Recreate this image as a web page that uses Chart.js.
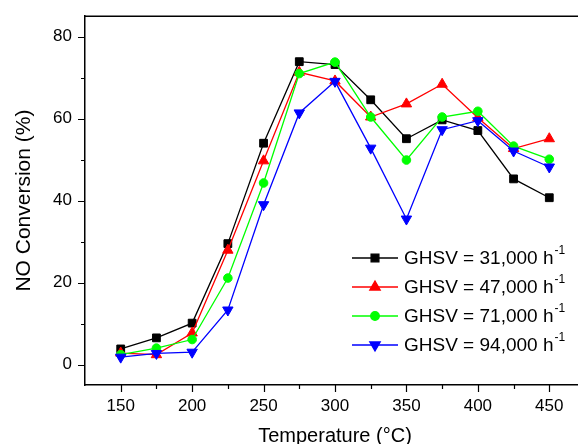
<!DOCTYPE html>
<html>
<head>
<meta charset="utf-8">
<script src="https://cdn.jsdelivr.net/npm/chart.js@4.4.0/dist/chart.umd.min.js"></script>
<style>
  html, body { margin: 0; padding: 0; background: #fff; }
  #wrap { width: 578px; height: 444px; overflow: hidden; }
  canvas { display: block; }
</style>
</head>
<body>
<div id="wrap"><canvas id="chart" width="592" height="444"></canvas></div>
<script>
const temperatures = [150, 175, 200, 225, 250, 275, 300, 325, 350, 375, 400, 425, 450];
const ghsv31000 = [3.8, 6.5, 10.1, 29.5, 54.0, 73.9, 73.2, 64.6, 55.1, 59.7, 57.1, 45.3, 40.7];
const ghsv47000 = [2.8, 2.4, 7.7, 27.9, 49.7, 71.3, 69.2, 60.4, 63.6, 68.4, 60.2, 52.7, 55.1];
const ghsv71000 = [2.4, 4.0, 6.1, 21.1, 44.3, 71.0, 73.8, 60.4, 49.9, 60.4, 61.8, 53.3, 50.1];
const ghsv94000 = [1.8, 2.7, 3.0, 13.3, 39.0, 61.4, 69.1, 52.8, 35.5, 57.3, 59.5, 52.1, 48.2];
const seriesNames = ['GHSV = 31,000 h', 'GHSV = 47,000 h', 'GHSV = 71,000 h', 'GHSV = 94,000 h'];
const xTickLabels = [150, 200, 250, 300, 350, 400, 450];
const yTickLabels = [0, 20, 40, 60, 80];

const FONT = "'Liberation Sans', Arial, sans-serif";

function series(values, color, style, radius, rotation, order) {
  return {
    data: temperatures.map((t, i) => ({ x: t, y: values[i] })),
    borderColor: color,
    backgroundColor: color,
    borderWidth: 1.3,
    pointStyle: style,
    pointRadius: radius,
    pointHoverRadius: radius,
    pointRotation: rotation,
    pointBorderWidth: 1,
    pointBorderColor: color,
    pointBackgroundColor: color,
    tension: 0,
    order: order
  };
}

const datasets = [
  series(ghsv31000, '#000000', 'rect', 5.5, 0, 3),
  series(ghsv47000, '#ff0000', 'triangle', 6, 0, 2),
  series(ghsv71000, '#00ff00', 'circle', 4.3, 0, 1),
  series(ghsv94000, '#0000ff', 'triangle', 6, 180, 0)
];
datasets.forEach((d, i) => d.label = seriesNames[i]);

// minor/major tick marks, top frame line, and the in-plot legend
const framePlugin = {
  id: 'frame',
  afterDraw(chart) {
    const ctx = chart.ctx;
    const area = chart.chartArea;
    const xs = chart.scales.x, ys = chart.scales.y;
    ctx.save();
    ctx.strokeStyle = '#000';
    ctx.lineWidth = 1.5;
    ctx.beginPath();
    ctx.moveTo(area.left, area.top);
    ctx.lineTo(area.right, area.top);
    ctx.lineTo(area.right, area.bottom);
    ctx.stroke();

    ctx.lineWidth = 1.2;
    ctx.beginPath();
    for (let v = 150; v <= 450; v += 25) {
      const px = Math.round(xs.getPixelForValue(v)) + 0.5;
      const len = xTickLabels.includes(v) ? 7 : 4;
      ctx.moveTo(px, area.bottom);
      ctx.lineTo(px, area.bottom + len);
    }
    for (let v = 0; v <= 80; v += 10) {
      const py = Math.round(ys.getPixelForValue(v)) + 0.5;
      const len = yTickLabels.includes(v) ? 7 : 4;
      ctx.moveTo(area.left, py);
      ctx.lineTo(area.left - len, py);
    }
    ctx.stroke();

    // legend
    const lx = 352, tx = 404;
    chart.data.datasets.forEach((d, i) => {
      const ly = 258 + i * 29;
      ctx.strokeStyle = d.borderColor;
      ctx.lineWidth = 1.3;
      ctx.beginPath();
      ctx.moveTo(lx, ly);
      ctx.lineTo(lx + 46, ly);
      ctx.stroke();
      ctx.fillStyle = d.borderColor;
      Chart.helpers.drawPoint(ctx, {
        pointStyle: d.pointStyle, radius: d.pointRadius, rotation: d.pointRotation, borderWidth: 1
      }, lx + 23, ly);
      ctx.fillStyle = '#000';
      ctx.font = '19px ' + FONT;
      ctx.textBaseline = 'middle';
      ctx.textAlign = 'left';
      ctx.fillText(d.label, tx, ly + 1);
      const w = ctx.measureText(d.label).width;
      ctx.font = '12px ' + FONT;
      ctx.fillText('-1', tx + w + 1, ly - 7);
    });
    ctx.restore();
  }
};

new Chart(document.getElementById('chart'), {
  type: 'line',
  data: { datasets: datasets },
  options: {
    responsive: false,
    animation: false,
    layout: { padding: { top: 14, right: 3, left: 0, bottom: 0 } },
    plugins: { legend: { display: false }, tooltip: { enabled: false } },
    scales: {
      x: {
        type: 'linear',
        min: 125,
        max: 475,
        afterFit: s => { s.height = 59; },
        afterBuildTicks: s => { s.ticks = xTickLabels.map(v => ({ value: v })); },
        border: { display: true, color: '#000', width: 1.5 },
        grid: { drawOnChartArea: false, drawTicks: true, tickLength: 7, tickColor: 'rgba(0,0,0,0)' },
        ticks: {
          autoSkip: false,
          maxRotation: 0,
          padding: 4,
          color: '#000',
          font: { family: FONT, size: 17 },
          callback: v => String(v)
        },
        title: {
          display: true,
          text: 'Temperature (°C)',
          color: '#000',
          font: { family: FONT, size: 20, lineHeight: 0.8 },
          padding: 0
        }
      },
      y: {
        min: -5,
        max: 85,
        afterFit: s => { s.width = 85; },
        afterBuildTicks: s => { s.ticks = yTickLabels.map(v => ({ value: v })); },
        border: { display: true, color: '#000', width: 1.5 },
        grid: { drawOnChartArea: false, drawTicks: true, tickLength: 7, tickColor: 'rgba(0,0,0,0)' },
        ticks: {
          autoSkip: false,
          padding: 6,
          color: '#000',
          font: { family: FONT, size: 17 },
          callback: v => String(v)
        },
        title: {
          display: true,
          text: 'NO Conversion (%)',
          color: '#000',
          font: { family: FONT, size: 21, lineHeight: 1.2 },
          padding: { top: 12, bottom: 0 }
        }
      }
    }
  },
  plugins: [framePlugin]
});
</script>
</body>
</html>
